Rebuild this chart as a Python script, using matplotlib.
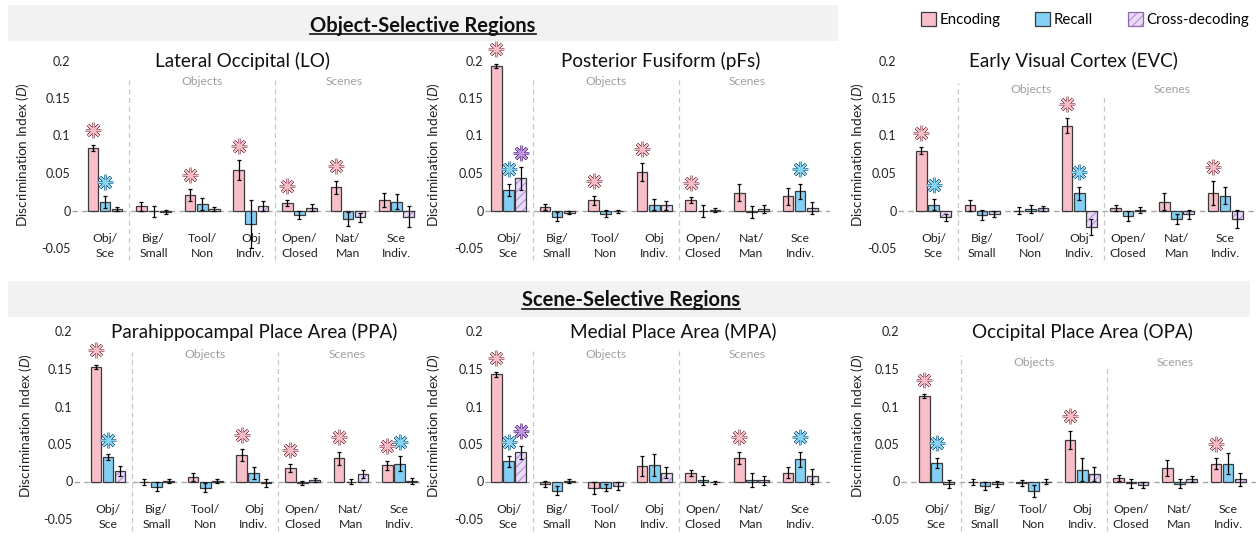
import matplotlib.pyplot as plt
from matplotlib.patches import Patch, Rectangle
from matplotlib.lines import Line2D
from matplotlib.markers import MarkerStyle
from matplotlib.legend_handler import HandlerTuple
import numpy as np

plt.rcParams['font.family'] = ['Lato', 'DejaVu Sans']
plt.rcParams['mathtext.fontset'] = 'custom'
plt.rcParams['mathtext.rm'] = 'Lato'
plt.rcParams['mathtext.it'] = 'Lato:italic'
plt.rcParams['hatch.linewidth'] = 0.8

categories = ['Obj/\nSce', 'Big/\nSmall', 'Tool/\nNon', 'Obj\nIndiv.',
              'Open/\nClosed', 'Nat/\nMan', 'Sce\nIndiv.']
series = ['Encoding', 'Recall', 'Cross-decoding']
yticks = [-0.05, 0, 0.05, 0.1, 0.15, 0.2]
ytick_labels = ['-0.05', '0', '0.05', '0.1', '0.15', '0.2']

# rows: encoding, recall, cross-decoding
lo_mean = [[0.084, 0.006, 0.021, 0.054, 0.010, 0.031, 0.014],
           [0.011, -0.001, 0.009, -0.018, -0.006, -0.011, 0.012],
           [0.002, -0.002, 0.002, 0.006, 0.004, -0.009, -0.008]]
lo_err = [[0.004, 0.006, 0.008, 0.013, 0.004, 0.009, 0.009],
          [0.008, 0.007, 0.008, 0.032, 0.005, 0.009, 0.010],
          [0.003, 0.003, 0.003, 0.007, 0.005, 0.006, 0.014]]
lo_sig = [(0, 0), (0, 2), (0, 3), (0, 4), (0, 5), (1, 0)]

pfs_mean = [[0.193, 0.005, 0.014, 0.051, 0.014, 0.024, 0.019],
            [0.028, -0.008, -0.004, 0.008, -0.001, -0.002, 0.026],
            [0.043, -0.003, -0.001, 0.007, 0.001, 0.002, 0.003]]
pfs_err = [[0.003, 0.004, 0.006, 0.012, 0.004, 0.011, 0.011],
           [0.008, 0.006, 0.005, 0.007, 0.008, 0.008, 0.010],
           [0.015, 0.002, 0.002, 0.006, 0.003, 0.005, 0.008]]
pfs_sig = [(0, 0), (0, 2), (0, 3), (0, 4), (1, 0), (1, 6), (2, 0)]

evc_mean = [[0.080, 0.007, 0.000, 0.113, 0.004, 0.012, 0.023],
            [0.008, -0.006, 0.002, 0.023, -0.007, -0.011, 0.020],
            [-0.009, -0.005, 0.003, -0.022, 0.001, -0.005, -0.011]]
evc_err = [[0.005, 0.007, 0.005, 0.010, 0.004, 0.011, 0.016],
           [0.007, 0.007, 0.005, 0.009, 0.007, 0.007, 0.011],
           [0.005, 0.004, 0.003, 0.011, 0.004, 0.006, 0.012]]
evc_sig = [(0, 0), (0, 3), (0, 6), (1, 0), (1, 3)]

ppa_mean = [[0.153, 0.000, 0.006, 0.035, 0.018, 0.031, 0.022],
            [0.033, -0.007, -0.008, 0.012, -0.002, 0.000, 0.024],
            [0.014, 0.001, 0.001, -0.002, 0.002, 0.010, 0.001]]
ppa_err = [[0.003, 0.004, 0.005, 0.008, 0.005, 0.009, 0.006],
           [0.004, 0.006, 0.006, 0.008, 0.003, 0.003, 0.010],
           [0.007, 0.003, 0.003, 0.005, 0.003, 0.005, 0.004]]
ppa_sig = [(0, 0), (0, 3), (0, 4), (0, 5), (0, 6), (1, 0), (1, 6)]

mpa_mean = [[0.143, -0.003, -0.008, 0.021, 0.011, 0.032, 0.012],
            [0.027, -0.012, -0.008, 0.022, 0.002, 0.002, 0.030],
            [0.039, 0.001, -0.006, 0.012, -0.001, 0.002, 0.007]]
mpa_err = [[0.003, 0.004, 0.008, 0.013, 0.004, 0.008, 0.007],
           [0.007, 0.006, 0.005, 0.015, 0.006, 0.009, 0.010],
           [0.009, 0.003, 0.005, 0.007, 0.002, 0.006, 0.010]]
mpa_sig = [(0, 0), (0, 5), (1, 0), (1, 6), (2, 0)]

opa_mean = [[0.114, -0.001, -0.002, 0.056, 0.005, 0.018, 0.024],
            [0.025, -0.006, -0.012, 0.016, -0.002, -0.003, 0.024],
            [-0.003, -0.003, 0.000, 0.010, -0.005, 0.003, 0.003]]
opa_err = [[0.003, 0.004, 0.004, 0.012, 0.004, 0.011, 0.007],
           [0.007, 0.005, 0.008, 0.015, 0.006, 0.006, 0.014],
           [0.005, 0.004, 0.003, 0.009, 0.004, 0.004, 0.009]]
opa_sig = [(0, 0), (0, 3), (0, 6), (1, 0)]

W, H = 1256, 535
fig = plt.figure(figsize=(W / 100, H / 100), dpi=100)

fill = ['#f9bfc9', '#84cff4', '#eadcf7']
star_fill = ['#f8bcc6', '#86d4f4', '#bf93e2']
star_edge = ['#7a4a52', '#2c5a78', '#553475']
hatch_col = '#b58ae0'
edge = '#3a3a3a'
star_marker = MarkerStyle((8, 2, 0), capstyle='round')

# px layout: (axis left, first group centre, axis right, zero line y)
panels = [
    dict(title='Lateral Occipital (LO)', mean=lo_mean, err=lo_err, sig=lo_sig,
         px=(72, 105, 416, 210.5), tx=2.83, sep=(0.178, 0.178), gy=0.172, yl=23),
    dict(title='Posterior Fusiform (pFs)', mean=pfs_mean, err=pfs_err, sig=pfs_sig,
         px=(485, 508.5, 830, 210.5), tx=3.14, sep=(0.178, 0.178), gy=0.172, yl=433),
    dict(title='Early Visual Cortex (EVC)', mean=evc_mean, err=evc_err, sig=evc_sig,
         px=(898, 933.5, 1256, 210.5), tx=2.87, sep=(0.170, 0.154), gy=0.161, yl=858),
    dict(title='Parahippocampal Place Area (PPA)', mean=ppa_mean, err=ppa_err, sig=ppa_sig,
         px=(74, 108, 420, 481.5), tx=3.0, sep=(0.173, 0.173), gy=0.170, yl=25),
    dict(title='Medial Place Area (MPA)', mean=mpa_mean, err=mpa_err, sig=mpa_sig,
         px=(485, 508.5, 830, 481.5), tx=3.38, sep=(0.175, 0.175), gy=0.170, yl=433),
    dict(title='Occipital Place Area (OPA)', mean=opa_mean, err=opa_err, sig=opa_sig,
         px=(901, 936.5, 1256, 481.5), tx=3.01, sep=(0.169, 0.153), gy=0.158, yl=858),
]

unit = 48.6  # px per category
x = np.arange(len(categories))
width, offset = 0.22, 0.25

for p in panels:
    left, g0, right, zero = p['px']
    top_px = zero - 0.2 * 750
    bot_px = zero + 0.05 * 750
    ax = fig.add_axes([left / W, 1 - bot_px / H, (right - left) / W, (bot_px - top_px) / H])
    ax.set_xlim((left - g0) / unit, (right - g0) / unit)
    ax.set_ylim(-0.05, 0.2)
    ax.patch.set_visible(False)
    for s in ax.spines.values():
        s.set_visible(False)
    ax.set_xticks([])
    ax.set_yticks(yticks)
    ax.set_yticklabels(ytick_labels)
    ax.tick_params(axis='y', length=0, pad=1, labelsize=9, colors='#222222')

    ax.axhline(0, color='#a8a8a8', lw=1, ls=(0, (4, 3)), zorder=1)
    for sx, st in zip([0.5, 3.5], p['sep']):
        ax.plot([sx, sx], [-0.066, st], color='#c8c8c8', lw=0.9, ls=(0, (4, 3)),
                clip_on=False, zorder=1)

    mean = np.array(p['mean'])
    err = np.array(p['err'])
    for i in range(3):
        xs = x + (i - 1) * offset
        if i == 2:
            ax.bar(xs, mean[i], width, color=fill[i], edgecolor=hatch_col, hatch='////',
                   lw=0, zorder=2)
            ax.bar(xs, mean[i], width, fill=False, edgecolor=edge, lw=0.9, zorder=3)
        else:
            ax.bar(xs, mean[i], width, color=fill[i], edgecolor=edge, lw=0.9, zorder=2)
        ax.errorbar(xs, mean[i], yerr=err[i], fmt='none', ecolor='black', elinewidth=0.9,
                    capsize=1.5, capthick=0.9, zorder=4)

    # significance asterisks: dark stroke underneath, coloured core on top
    for i, g in p['sig']:
        sx = g + (i - 1) * offset
        sy = mean[i][g] + err[i][g] + 0.019
        ax.plot(sx, sy, ls='none', marker=star_marker, ms=11, mew=2.1,
                color=star_edge[i], zorder=5, clip_on=False)
        ax.plot(sx, sy, ls='none', marker=star_marker, ms=11, mew=1.05,
                color=star_fill[i], zorder=6, clip_on=False)

    for xi, lab in zip(x, categories):
        ax.text(xi, -0.030, lab, ha='center', va='top', fontsize=8.8,
                linespacing=1.4, color='#222222', clip_on=False)
    ax.text(2, p['gy'], 'Objects', ha='center', va='center', fontsize=8.7, color='#a0a0a0')
    ax.text(4.92, p['gy'], 'Scenes', ha='center', va='center', fontsize=8.7, color='#a0a0a0')
    ax.text(p['tx'], 0.2, p['title'], ha='center', va='center', fontsize=13.6,
            color='#111111', clip_on=False)
    fig.text(p['yl'] / W, 1 - (zero - 0.075 * 750) / H, 'Discrimination Index ($\\mathit{D}$)',
             rotation=90, ha='center', va='center', fontsize=9.8, color='#222222')

# section banners
fig.patches.append(Rectangle((8 / W, 1 - 41 / H), 830 / W, 36 / H, transform=fig.transFigure,
                             facecolor='#f2f2f2', edgecolor='none', zorder=0))
fig.patches.append(Rectangle((8 / W, 1 - 317 / H), 1242 / W, 36 / H, transform=fig.transFigure,
                             facecolor='#f2f2f2', edgecolor='none', zorder=0))

renderer = fig.canvas.get_renderer()
for txt, cx, base in [('Object-Selective Regions', 423, 31.5),
                      ('Scene-Selective Regions', 631, 306.5)]:
    t = fig.text(cx / W, 1 - base / H, txt, ha='center', va='baseline', fontsize=14.5,
                 fontweight='bold', color='#111111')
    bb = t.get_window_extent(renderer).transformed(fig.transFigure.inverted())
    uy = 1 - (base + 2.2) / H
    fig.add_artist(Line2D([bb.x0, bb.x1], [uy, uy], transform=fig.transFigure,
                          color='#111111', lw=1.2))

# legend
h_enc = Patch(facecolor=fill[0], edgecolor=edge, lw=0.9)
h_rec = Patch(facecolor=fill[1], edgecolor=edge, lw=0.9)
h_cross = (Patch(facecolor=fill[2], edgecolor=hatch_col, hatch='////', lw=0),
           Patch(fill=False, edgecolor='#8a6aa8', lw=0.9))
fig.legend([h_enc, h_rec, h_cross], series, loc='center', bbox_to_anchor=(1085 / W, 1 - 19.5 / H),
           ncol=3, frameon=False, fontsize=10.8, handlelength=1.0, handleheight=1.0,
           handletextpad=0.25, columnspacing=2.3,
           handler_map={tuple: HandlerTuple(ndivide=1, pad=0)})

fig.savefig('out.png', dpi=100)
